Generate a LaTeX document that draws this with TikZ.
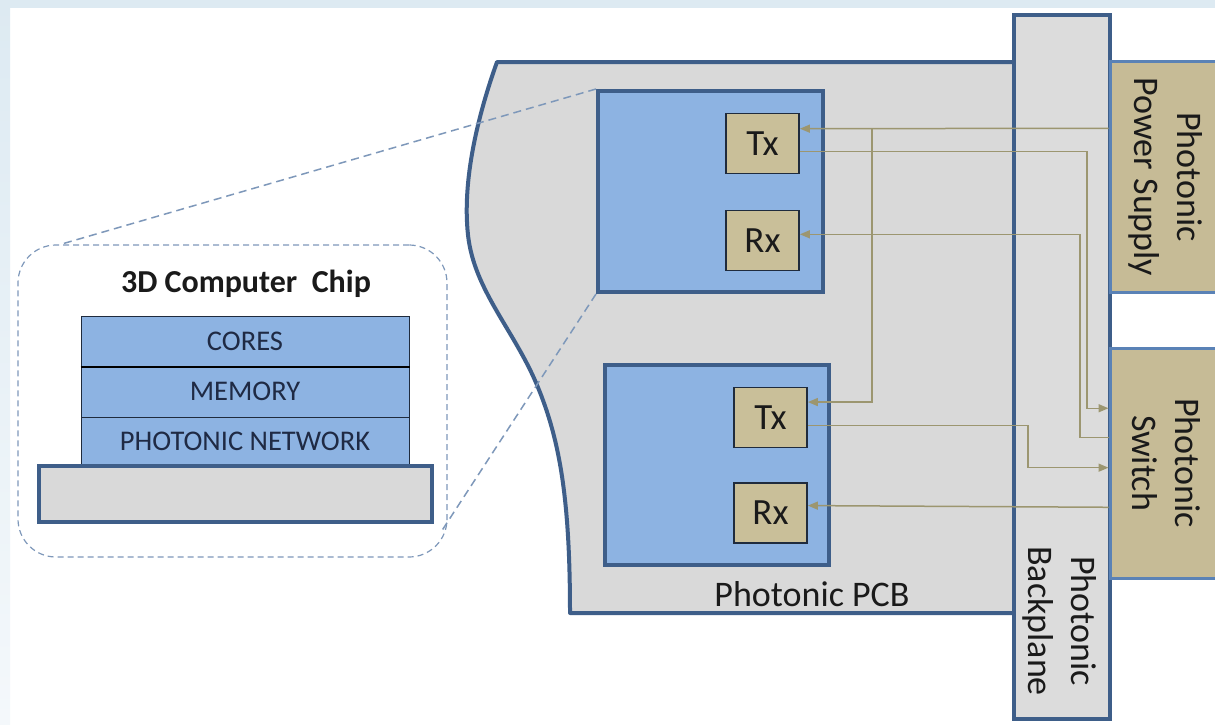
\documentclass[tikz,border=0pt]{standalone}
\usepackage{fontspec}
\setmainfont{Carlito}
\usetikzlibrary{arrows.meta,calc}

\definecolor{bandblue}{HTML}{DDEAF2}
\definecolor{bandpale}{HTML}{F4F8FB}
\definecolor{boardgray}{HTML}{D9D9D9}
\definecolor{plategray}{HTML}{DCDCDC}
\definecolor{edgeblue}{HTML}{3E5E89}
\definecolor{lightedge}{HTML}{5A82B6}
\definecolor{chipblue}{HTML}{8DB3E2}
\definecolor{tan}{HTML}{C9BF99}
\definecolor{unittan}{HTML}{C6BB96}
\definecolor{boxedge}{HTML}{1F2B3D}
\definecolor{fibre}{HTML}{9C9670}
\definecolor{zoomblue}{HTML}{7E98BA}
\definecolor{inktext}{HTML}{1A1A1A}
\definecolor{layertext}{HTML}{1F2A44}

\tikzset{
  bigfont/.style={font=\fontsize{36}{43}\selectfont, text=inktext},
  chipbox/.style={draw=edgeblue, line width=4pt, fill=chipblue, inner sep=0pt},
  trx/.style={draw=boxedge, line width=1.8pt, fill=tan, minimum width=73pt,
              minimum height=60pt, inner sep=0pt, font=\fontsize{37}{43}\selectfont, text=inktext},
  unitbox/.style={draw=lightedge, line width=3pt, fill=unittan, inner sep=0pt},
  layer/.style={draw=boxedge, line width=1pt, fill=chipblue, minimum width=328pt,
                inner sep=0pt, font=\fontsize{28.5}{32}\selectfont, text=layertext},
  conn/.style={draw=fibre, line width=1.5pt},
  tip/.style={-{Triangle[length=10pt,width=8pt]}},
  zoomline/.style={draw=zoomblue, line width=1.5pt, dash pattern=on 8pt off 5pt},
}

\begin{document}
\begin{tikzpicture}[x=1pt,y=-1pt]
\useasboundingbox (0,0) rectangle (1215,724);

% page frame
\fill[white] (0,0) rectangle (1215,724);
\shade[top color=bandblue, bottom color=bandpale] (0,0) rectangle (10,724);
\fill[bandblue] (0,0) rectangle (1215,8);

% magnified chip inset
\node[draw=zoomblue, line width=1.2pt, dash pattern=on 6pt off 4pt, rounded corners=38pt,
      minimum width=429pt, minimum height=312pt, inner sep=0pt] (inset) at (232.5,401) {};
\node[font=\bfseries\fontsize{32}{38}\selectfont, text=inktext] (chiptitle) at (246,284) {3D Computer\ \ Chip};
\node[layer, minimum height=50pt] (cores) at (245,341) {CORES};
\node[layer, minimum height=51pt] (memory) at (245,391.5) {MEMORY};
\node[layer, minimum height=49pt] (pnet) at (245,441.5) {PHOTONIC NETWORK};
\draw[black, line width=2pt] (cores.south west) -- (cores.south east);
\node[draw=edgeblue, line width=4pt, fill=boardgray, minimum width=393pt,
      minimum height=56pt, inner sep=0pt] (base) at (235.5,494) {};

% photonic circuit board with its curved cut edge
\filldraw[fill=boardgray, draw=edgeblue, line width=4pt, line join=round]
  (497,62) -- (1030,62) -- (1030,613) -- (570,613)
  .. controls (570,500) and (560,440) .. (537,385)
  .. controls (514,330) and (474,290) .. (468,235)
  .. controls (462,180) and (478,115) .. (497,62) -- cycle;
\node[bigfont] (pcblabel) at (812,594) {Photonic PCB};

% chip sites on the board
\node[chipbox, minimum width=225pt, minimum height=201pt] (chipA) at (710.5,191.5) {};
\node[chipbox, minimum width=224pt, minimum height=200pt] (chipB) at (717,465) {};

% zoom guides from the upper chip site to the inset
\coordinate (insetA) at ($(inset.north west)!0.1!(inset.north east)$);
\coordinate (insetB) at ($(inset.south east)+(-7,-25)$);
\draw[zoomline] (chipA.north west) -- (insetA);
\draw[zoomline] (chipA.south west) -- (insetB);

% transmitters and receivers
\node[trx] (Tx1) at (762.5,143.5) {Tx};
\node[trx] (Rx1) at (762.5,240.5) {Rx};
\node[trx] (Tx2) at (770.5,417.5) {Tx};
\node[trx] (Rx2) at (770.5,513) {Rx};

% backplane and the units plugged into it
\node[draw=edgeblue, line width=4pt, fill=plategray, minimum width=96pt,
      minimum height=704pt, inner sep=0pt] (bp) at (1062,367) {};
\node[bigfont, rotate=-90, align=center] (bplabel) at (1060,621) {Photonic\\Backplane};
\node[unitbox, minimum width=110pt, minimum height=231pt] (psu) at (1165,176.5) {};
\node[bigfont, rotate=-90, align=center] (psulabel) at (1166,177) {Photonic\\Power Supply};
\node[unitbox, minimum width=110pt, minimum height=230pt] (sw) at (1165,463) {};
\node[bigfont, rotate=-90, align=center] (swlabel) at (1166,463) {Photonic\\Switch};

% attachment points on the boxes
\coordinate (t1i) at ($(Tx1.north east)!0.26!(Tx1.south east)$);
\coordinate (t1o) at ($(Tx1.north east)!0.63!(Tx1.south east)$);
\coordinate (r1)  at ($(Rx1.north east)!0.40!(Rx1.south east)$);
\coordinate (t2i) at ($(Tx2.north east)!0.25!(Tx2.south east)$);
\coordinate (t2o) at ($(Tx2.north east)!0.63!(Tx2.south east)$);
\coordinate (r2)  at ($(Rx2.north east)!0.38!(Rx2.south east)$);
\coordinate (ps1) at ($(psu.north west)!0.294!(psu.south west)$);
\coordinate (s1)  at ($(sw.north west)!0.265!(sw.south west)$);
\coordinate (s2)  at ($(sw.north west)!0.39!(sw.south west)$);
\coordinate (s3)  at ($(sw.north west)!0.52!(sw.south west)$);
\coordinate (s4)  at ($(sw.north west)!0.69!(sw.south west)$);
% vertical runs of the fibres
\coordinate (xa) at (872,0);
\coordinate (xb) at (1087,0);
\coordinate (xc) at (1080,0);
\coordinate (xd) at (1028,0);

% optical fibres
\draw[conn, tip] (ps1) -- (t1i);
\draw[conn, tip] (t1i -| xa) -- (t2i -| xa) -- (t2i);
\draw[conn, tip] (t1o) -- (t1o -| xb) -- (s1 -| xb) -- (s1);
\draw[conn, tip] (s2) -- (s2 -| xc) -- (r1 -| xc) -- (r1);
\draw[conn, tip] (t2o) -- (t2o -| xd) -- (s3 -| xd) -- (s3);
\draw[conn, tip] (s4) -- (r2);
\end{tikzpicture}
\end{document}
